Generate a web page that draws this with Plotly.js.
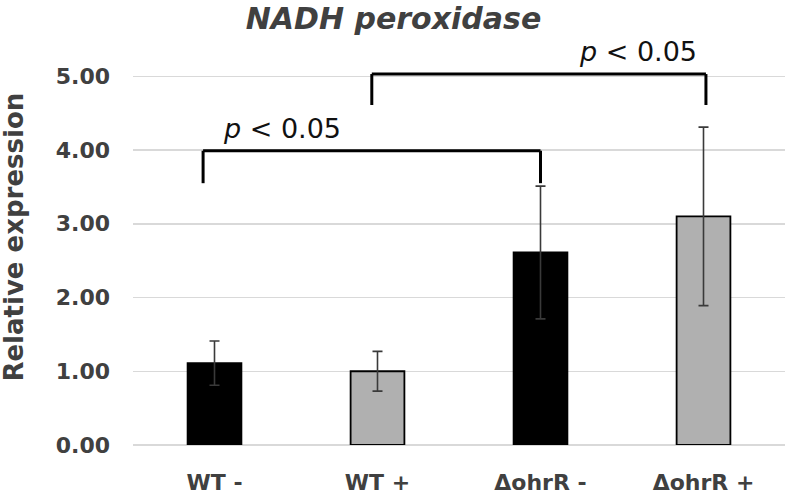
<!DOCTYPE html>
<html>
<head>
<meta charset="utf-8">
<script src="https://cdn.plot.ly/plotly-3.0.1.min.js"></script>
<style>html,body{margin:0;padding:0;background:#fff;}#chart{width:787px;height:500px;}</style>
</head>
<body>
<div id="chart"></div>
<script>
// ---- data ----
const categories = ["WT -", "WT +", "\u0394ohrR -", "\u0394ohrR +"];
const expression = [1.11, 1.00, 2.61, 3.10];
const errors = [0.30, 0.27, 0.90, 1.21];
const yTickValues = [0, 1, 2, 3, 4, 5];
const yTickLabels = ["0.00", "1.00", "2.00", "3.00", "4.00", "5.00"];
// significance brackets (category index units / expression units)
const bracketLeft = [-0.07, 0.965];
const bracketRight = [2.0, 3.015];
const bracketTop = [3.99, 5.03];
const bracketLegBottom = [3.55, 4.61];
const bracketLabel = ["<i>p</i> &lt; 0.05", "<i>p</i> &lt; 0.05"];
const bracketLabelX = [0.417, 2.598];
const bracketLabelY = [4.285, 5.33];

// ---- styles ----
const barColors = ["#000000", "#b0b0b0", "#000000", "#b0b0b0"];
const textGray = "#404040";

const trace = {
  type: "bar",
  x: categories,
  y: expression,
  marker: { color: barColors, line: { color: "#000000", width: 1.8 } },
  error_y: { type: "data", array: errors, visible: true, color: "#3a3a3a", thickness: 1.6, width: 5 },
  hoverinfo: "x+y"
};

const shapes = [];
for (let i = 0; i < bracketLeft.length; i++) {
  const ln = { color: "#000000", width: 3 };
  shapes.push({ type: "line", xref: "x", yref: "y", x0: bracketLeft[i], x1: bracketLeft[i], y0: bracketLegBottom[i], y1: bracketTop[i], line: ln });
  shapes.push({ type: "line", xref: "x", yref: "y", x0: bracketRight[i], x1: bracketRight[i], y0: bracketLegBottom[i], y1: bracketTop[i], line: ln });
  shapes.push({ type: "line", xref: "x", yref: "y", x0: bracketLeft[i], x1: bracketRight[i], y0: bracketTop[i], y1: bracketTop[i], line: ln });
}

const annotations = bracketLabel.map((t, i) => ({
  text: t, xref: "x", yref: "y", x: bracketLabelX[i], y: bracketLabelY[i],
  showarrow: false, xanchor: "center", yanchor: "middle",
  font: { family: "DejaVu Sans", size: 27, color: "#111111" }
}));
annotations.push({
  text: "Relative expression", xref: "paper", yref: "paper",
  x: -0.184, y: 0.5024, textangle: -90, showarrow: false,
  xanchor: "center", yanchor: "middle",
  font: { family: "DejaVu Sans", size: 26, color: textGray, weight: "bold" }
});

const layout = {
  width: 787, height: 500,
  margin: { l: 133, r: 2, t: 32, b: 55, pad: 0 },
  paper_bgcolor: "#ffffff", plot_bgcolor: "#ffffff",
  showlegend: false,
  bargap: 0.67,
  title: {
    text: "NADH peroxidase",
    xref: "container", yref: "container", x: 0.5, y: 1 - 18 / 500,
    xanchor: "center", yanchor: "middle",
    font: { family: "DejaVu Sans", size: 30, color: textGray, weight: "bold", style: "italic" }
  },
  xaxis: {
    type: "category",
    showgrid: false, showline: false, zeroline: false, ticks: "",
    ticklabelstandoff: 22,
    tickfont: { family: "DejaVu Sans", size: 22, color: textGray, weight: "bold" }
  },
  yaxis: {
    range: [0, 5.6],
    tickvals: yTickValues, ticktext: yTickLabels,
    showgrid: true, gridcolor: "#d9d9d9", gridwidth: 1.5,
    zeroline: true, zerolinecolor: "#d9d9d9", zerolinewidth: 1.5,
    showline: false, ticks: "",
    ticklabelstandoff: 22,
    tickfont: { family: "DejaVu Sans", size: 22, color: textGray, weight: "bold" }
  },
  shapes: shapes,
  annotations: annotations
};

Plotly.newPlot("chart", [trace], layout, { displayModeBar: false, staticPlot: true });
</script>
</body>
</html>
